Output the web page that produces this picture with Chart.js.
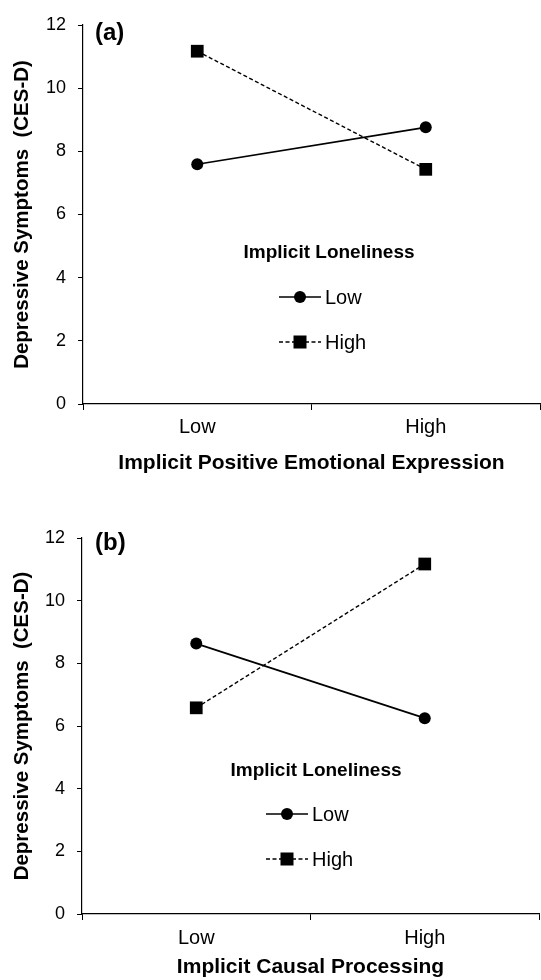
<!DOCTYPE html>
<html>
<head>
<meta charset="utf-8">
<script src="https://cdn.jsdelivr.net/npm/chart.js@4"></script>
<style>
  body { margin: 0; background: #fff; overflow: hidden; }
  canvas { position: absolute; left: 0; }
</style>
</head>
<body>
<canvas id="chartA" width="541" height="480" style="top:0"></canvas>
<canvas id="chartB" width="541" height="500" style="top:480px"></canvas>
<script>
const categories = ['Low', 'High'];
const seriesNames = ['Low', 'High'];

// panel (a): implicit positive emotional expression
const lowLonelinessA = [7.59, 8.76];
const highLonelinessA = [11.17, 7.43];

// panel (b): implicit causal processing
const lowLonelinessB = [8.63, 6.25];
const highLonelinessB = [6.58, 11.17];

const yMin = 0, yMax = 12, yStep = 2;

const FONT = 'Liberation Sans, Arial, sans-serif';
Chart.defaults.font.family = FONT;
Chart.defaults.color = '#000';

// legend block + panel letter, drawn inside the plot
const insideLegend = {
  id: 'insideLegend',
  afterDraw(chart, args, opts) {
    const ctx = chart.ctx;
    ctx.save();
    ctx.fillStyle = '#000';
    ctx.strokeStyle = '#000';

    ctx.font = 'bold 24px ' + FONT;
    ctx.textAlign = 'left';
    ctx.textBaseline = 'middle';
    ctx.fillText(opts.letter, opts.letterX, opts.letterY);

    ctx.font = 'bold 19px ' + FONT;
    ctx.textAlign = 'center';
    ctx.fillText(opts.title, opts.titleX, opts.titleY);

    chart.data.datasets.forEach((ds, i) => {
      const y = opts.rowY[i];
      ctx.lineWidth = 1.5;
      ctx.setLineDash(ds.borderDash || []);
      ctx.beginPath();
      ctx.moveTo(opts.lineX0, y);
      ctx.lineTo(opts.lineX1, y);
      ctx.stroke();
      ctx.setLineDash([]);
      const mx = (opts.lineX0 + opts.lineX1) / 2;
      if (ds.pointStyle === 'rect') {
        ctx.fillRect(mx - 6.5, y - 6.5, 13, 13);
      } else {
        ctx.beginPath();
        ctx.arc(mx, y, 6, 0, Math.PI * 2);
        ctx.fill();
      }
      ctx.font = '20px ' + FONT;
      ctx.textAlign = 'left';
      ctx.fillText(ds.label, opts.lineX1 + 4, y + 1);
    });
    ctx.restore();
  }
};

function makeChart(id, lowVals, highVals, xTitle, lay) {
  const ctx = document.getElementById(id).getContext('2d');
  return new Chart(ctx, {
    type: 'line',
    data: {
      labels: categories,
      datasets: [{
        label: seriesNames[0],
        data: lowVals,
        borderColor: '#000',
        backgroundColor: '#000',
        borderWidth: 1.7,
        pointStyle: 'circle',
        pointRadius: 6,
        pointBorderWidth: 0,
        tension: 0
      }, {
        label: seriesNames[1],
        data: highVals,
        borderColor: '#000',
        backgroundColor: '#000',
        borderWidth: 1.4,
        borderDash: [4, 2.5],
        pointStyle: 'rect',
        pointRadius: 9,
        pointBorderWidth: 0,
        tension: 0
      }]
    },
    options: {
      responsive: false,
      animation: false,
      layout: {
        autoPadding: false, // otherwise the big square markers eat ~9px on the right
        padding: { top: lay.top, right: lay.right, left: 0, bottom: 0 }
      },
      plugins: {
        legend: { display: false },
        tooltip: { enabled: false },
        insideLegend: lay.legend
      },
      scales: {
        x: {
          type: 'category',
          offset: true,
          grid: { offset: true, drawOnChartArea: false, drawTicks: true, tickLength: 6, color: '#000' },
          border: { color: '#000', width: 1.2 },
          ticks: { font: { size: 20 }, padding: lay.xTickPad, color: '#000' },
          title: { display: true, text: xTitle, font: { size: 21, weight: 'bold' }, padding: { top: 0, bottom: lay.xTitlePad }, color: '#000' },
          afterFit(scale) {
            scale.height = lay.xHeight;
            scale.paddingLeft = 0;
            scale.paddingRight = 0;
          }
        },
        y: {
          min: yMin,
          max: yMax,
          grid: { drawOnChartArea: false, drawTicks: true, tickLength: 5, color: '#000' },
          border: { color: '#000', width: 1.2 },
          ticks: { stepSize: yStep, font: { size: 18 }, padding: 12, color: '#000' },
          title: { display: true, text: 'Depressive Symptoms  (CES-D)', font: { size: 20.5, weight: 'bold' }, padding: { top: 10, bottom: 0 }, color: '#000' },
          afterFit(scale) { scale.width = lay.yWidth; }
        }
      }
    },
    plugins: [insideLegend]
  });
}

makeChart('chartA', lowLonelinessA, highLonelinessA, 'Implicit Positive Emotional Expression', {
  top: 25, right: 1, yWidth: 83, xHeight: 76, xTickPad: 5, xTitlePad: 4,
  legend: {
    letter: '(a)', letterX: 95, letterY: 33,
    title: 'Implicit Loneliness', titleX: 329, titleY: 253,
    lineX0: 279, lineX1: 321, rowY: [297, 342]
  }
});

makeChart('chartB', lowLonelinessB, highLonelinessB, 'Implicit Causal Processing', {
  top: 58, right: 2, yWidth: 82, xHeight: 66, xTickPad: 6, xTitlePad: 0,
  legend: {
    letter: '(b)', letterX: 95, letterY: 63,
    title: 'Implicit Loneliness', titleX: 316, titleY: 291,
    lineX0: 266, lineX1: 308, rowY: [334, 379]
  }
});
</script>
</body>
</html>
